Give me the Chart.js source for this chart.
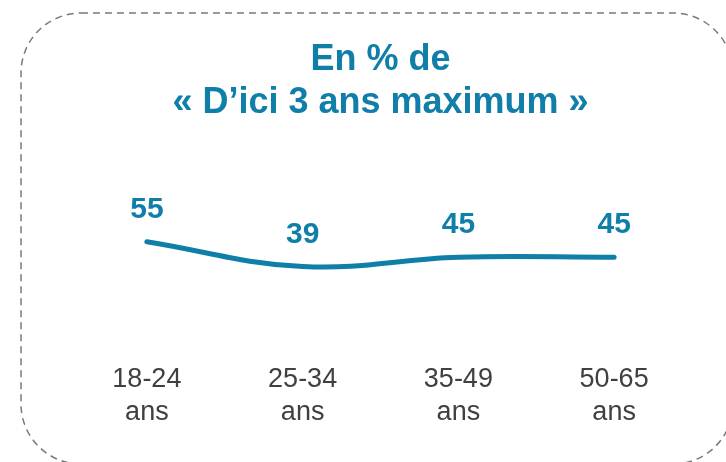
<!DOCTYPE html>
<html>
<head>
<meta charset="utf-8">
<script src="https://cdn.jsdelivr.net/npm/chart.js@4"></script>
<style>
  body { margin: 0; background: #fff; }
  #wrap { width: 726px; height: 462px; }
</style>
</head>
<body>
<div id="wrap"><canvas id="myChart"></canvas></div>
<script>
const ageGroups = [['18-24', 'ans'], ['25-34', 'ans'], ['35-49', 'ans'], ['50-65', 'ans']];
const pctValues = [55, 39, 45, 45];
const titleLines = ['En % de', '« D’ici 3 ans maximum »'];

const blue = '#0F7EA9';
const fontFam = "'Liberation Sans', Arial, sans-serif";

// dashed rounded frame behind the chart
const frame = {
    id: 'frame',
    beforeDraw(chart) {
        const c = chart.ctx;
        const x = 21, y = 13, w = 712, h = 451, r = 60;
        c.save();
        c.strokeStyle = '#7a7a7a';
        c.lineWidth = 1.5;
        c.setLineDash([7, 5]);
        c.beginPath();
        c.roundRect(x, y, w, h, r);
        c.stroke();
        c.restore();
    }
};

// value labels above the points
const valueLabels = {
    id: 'valueLabels',
    afterDatasetsDraw(chart) {
        const c = chart.ctx;
        const meta = chart.getDatasetMeta(0);
        c.save();
        c.fillStyle = blue;
        c.font = 'bold 30px ' + fontFam;
        c.textAlign = 'center';
        c.textBaseline = 'alphabetic';
        meta.data.forEach((pt, i) => {
            c.fillText(pctValues[i], pt.x, pt.y - 24);
        });
        c.restore();
    }
};

const ctx = document.getElementById('myChart');

new Chart(ctx, {
    type: 'line',
    data: {
        labels: ageGroups,
        datasets: [{
            data: pctValues,
            borderColor: blue,
            borderWidth: 5,
            borderCapStyle: 'round',
            pointRadius: 0,
            tension: 0.4,
            fill: false
        }]
    },
    options: {
        responsive: true,
        maintainAspectRatio: false,
        animation: false,
        layout: {
            padding: { left: 69, right: 34, top: 0, bottom: -3 }
        },
        plugins: {
            legend: { display: false },
            tooltip: { enabled: false },
            title: {
                display: true,
                text: titleLines,
                color: blue,
                font: { family: fontFam, size: 36, weight: 'bold', lineHeight: 43 / 36 },
                padding: { top: 39, bottom: 47 }
            }
        },
        scales: {
            x: {
                offset: true,
                grid: { display: false, drawTicks: false },
                border: { display: false },
                ticks: {
                    color: '#404040',
                    padding: 36,
                    font: { family: fontFam, size: 27, lineHeight: 33 / 27 }
                }
            },
            y: {
                display: false,
                min: 0,
                max: 100
            }
        }
    },
    plugins: [frame, valueLabels]
});
</script>
</body>
</html>
